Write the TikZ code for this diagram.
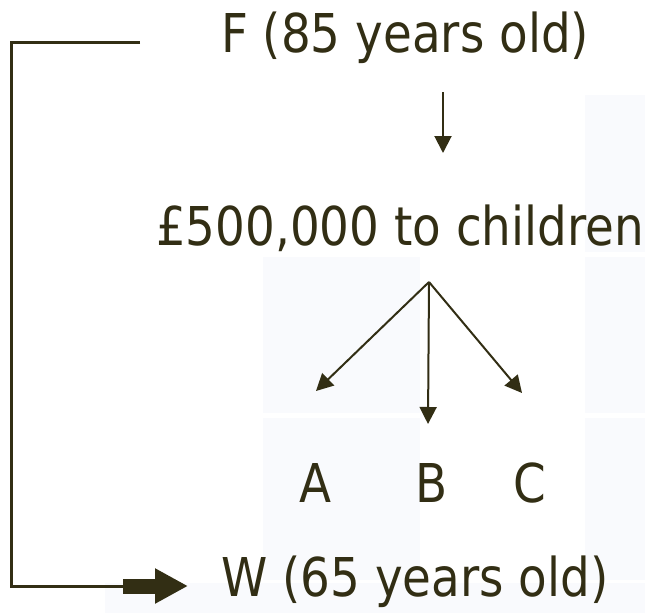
\documentclass[tikz,border=0pt]{standalone}
\usepackage{fontspec}
\setmainfont{DejaVu Sans}[FakeStretch=0.875]
\usetikzlibrary{arrows.meta}
\definecolor{ink}{RGB}{50,46,20}
\definecolor{shade}{RGB}{249,250,253}

\begin{document}
\begin{tikzpicture}[x=1pt, y=-1pt,
  every node/.style={font=\fontsize{53.5}{60}\selectfont, text=ink, inner sep=0pt},
  arr/.style={draw=ink, line width=2pt, -{Triangle[length=17pt,width=17pt]}},
  cell/.style={fill=shade}]
\useasboundingbox (0,0) rectangle (645,613);
\fill[cell] (585,95) rectangle (645,252);
\fill[cell] (263,257) rectangle (420,413);
\fill[cell] (585,257) rectangle (645,413);
\fill[cell] (263,418) rectangle (420,580);
\fill[cell] (585,418) rectangle (645,580);
\fill[cell] (105,583) rectangle (645,613);

\node[anchor=base west] (F) at (221,52.3) {F (85 years old)};
\node[anchor=base west] (M) at (156,245.7) {£500,000 to children};
\node[anchor=base] (A) at (316,502) {A};
\node[anchor=base] (B) at (432,502) {B};
\node[anchor=base] (C) at (530,502) {C};
\node[anchor=base west] (W) at (221,596.7) {W (65 years old)};

\coordinate (d1) at (443,92);
\coordinate (d2) at (443,153);
\coordinate (fork) at (429,282);
\coordinate (ta) at (316,391);
\coordinate (tb) at (428,424);
\coordinate (tc) at (522,393);
\coordinate (s) at (140,42.7);
\coordinate (k) at (11.5,42.7);
\coordinate (b1) at (123,586);
\coordinate (b2) at (188,586);

\draw[arr] (d1) -- (d2);
\draw[arr] (fork) -- (ta);
\draw[arr] (fork) -- (tb);
\draw[arr] (fork) -- (tc);
\draw[ink, line width=3pt] (s) -- (k) |- (b1);
\draw[ink, line width=15pt, -{Triangle[length=33pt,width=33pt]}] (b1) -- (b2);
\end{tikzpicture}
\end{document}
